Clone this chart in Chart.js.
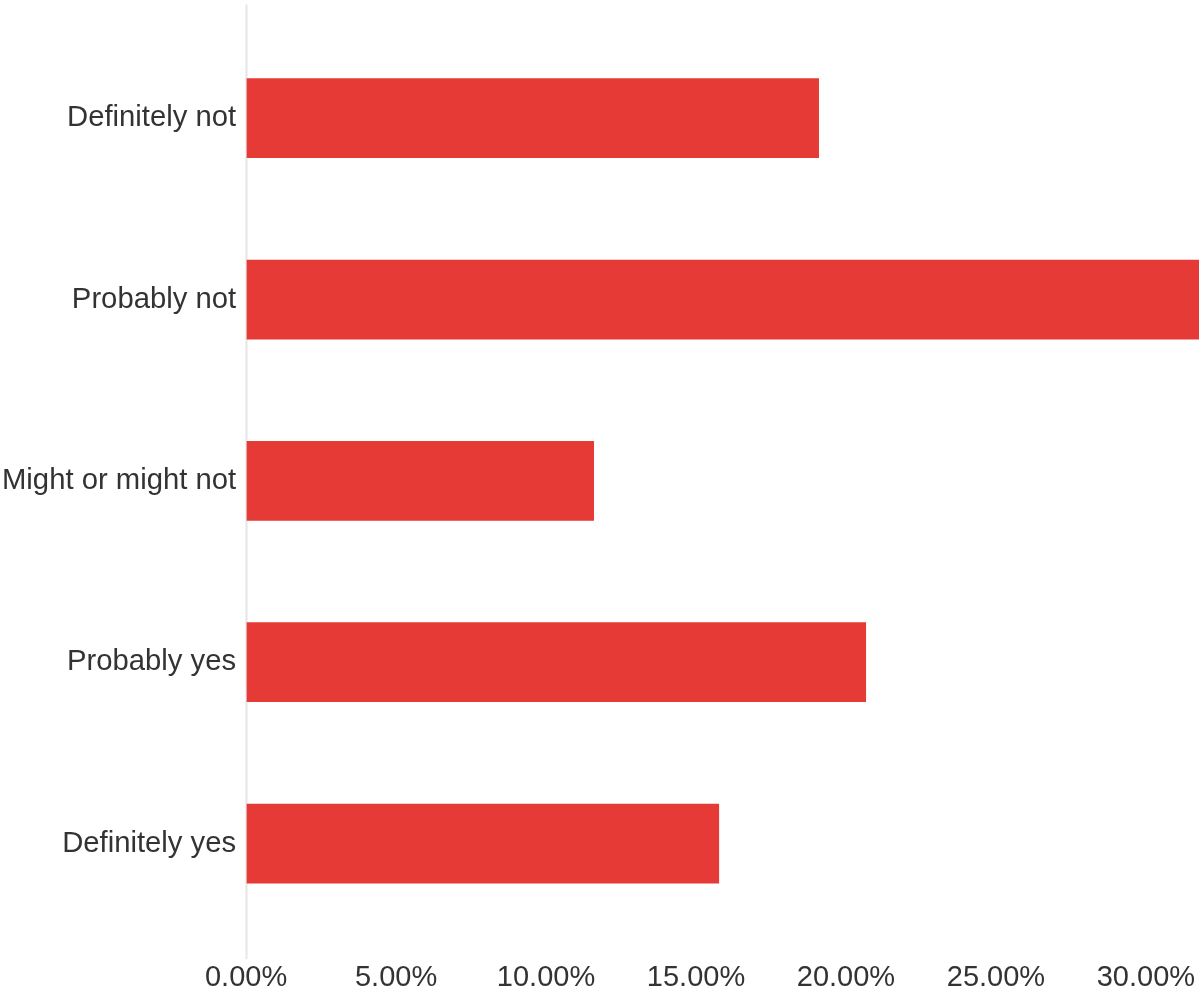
<!DOCTYPE html>
<html>
<head>
<meta charset="utf-8">
<script src="https://cdn.jsdelivr.net/npm/chart.js@4"></script>
<style>
  html, body { margin: 0; padding: 0; background: #fff; }
  #wrap { width: 1199px; height: 993px; }
</style>
</head>
<body>
<div id="wrap"><canvas id="chartCanvas"></canvas></div>
<script>
const answers = ['Definitely not', 'Probably not', 'Might or might not', 'Probably yes', 'Definitely yes'];
const shares = [19.1, 31.77, 11.6, 20.67, 15.77];
const axisMax = 31.77;
const tickStep = 5;

// light axis line at 0, a bit longer than the plot area
const zeroLine = {
  id: 'zeroLine',
  beforeDatasetsDraw(chart) {
    const c = chart.ctx;
    const x = Math.round(chart.scales.x.getPixelForValue(0)) + 0.5;
    c.save();
    c.strokeStyle = '#e6e6e6';
    c.lineWidth = 2;
    c.beginPath();
    c.moveTo(x, chart.chartArea.top - 23);
    c.lineTo(x, chart.chartArea.bottom + 25);
    c.stroke();
    c.restore();
  }
};

const ctx = document.getElementById('chartCanvas').getContext('2d');

const chart = new Chart(ctx, {
  type: 'bar',
  data: {
    labels: answers,
    datasets: [{
      data: shares,
      backgroundColor: '#e53a36',
      barPercentage: 0.44,
      categoryPercentage: 1
    }]
  },
  options: {
    indexAxis: 'y',
    responsive: true,
    maintainAspectRatio: false,
    animation: false,
    layout: { padding: { top: 27, bottom: -2, left: -8, right: 0 } },
    plugins: {
      legend: { display: false },
      tooltip: { enabled: false }
    },
    scales: {
      x: {
        min: 0,
        max: axisMax,
        grid: { drawOnChartArea: false, drawTicks: true, tickLength: 26, color: 'rgba(0,0,0,0)' },
        border: { display: false },
        ticks: {
          stepSize: tickStep,
          includeBounds: false,
          padding: 0,
          color: '#333333',
          font: { family: '"Liberation Sans", Arial, sans-serif', size: 29 },
          maxRotation: 0,
          callback: v => v.toFixed(2) + '%'
        }
      },
      y: {
        grid: { display: false, drawTicks: false, tickLength: 0 },
        border: { display: false },
        ticks: {
          padding: 10,
          color: '#333333',
          font: { family: '"Liberation Sans", Arial, sans-serif', size: 29.25 }
        }
      }
    }
  },
  plugins: [zeroLine]
});
</script>
</body>
</html>
